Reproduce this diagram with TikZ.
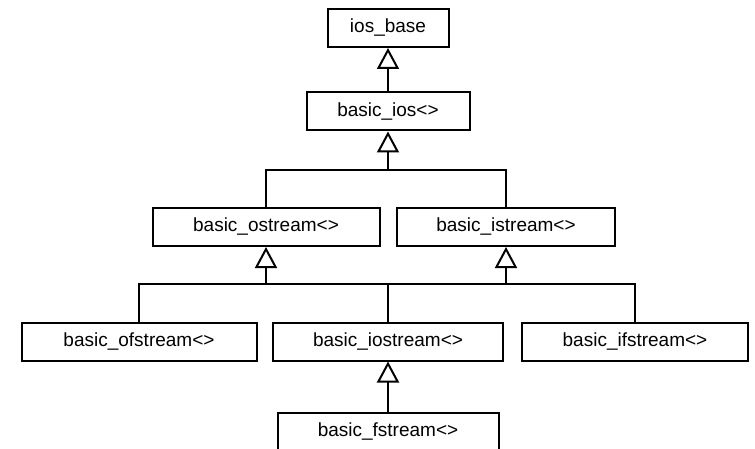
\documentclass[tikz,border=0pt]{standalone}
\usepackage{fontspec}
\setmainfont{Liberation Sans}
\usepackage{tikz}
\usetikzlibrary{arrows.meta, positioning}

\begin{document}
\begin{tikzpicture}[
x=1pt, y=-1pt,
box/.style={draw, line width=2pt, minimum height=38pt, inner sep=0pt, font=\fontsize{19}{21}\selectfont},
line/.style={line width=2pt},
inherit/.style={line width=2pt, -{Triangle[open, length=21pt, width=22pt, line width=2pt]}}
]
\useasboundingbox (0,0) rectangle (755,449);
\node[box, minimum width=121pt] (base) at (388,28) {ios\_base};
\node[box, minimum width=163pt] (ios) at (388,111.5) {basic\_ios<>};
\node[box, minimum width=227pt] (ostream) at (266,227) {basic\_ostream<>};
\node[box, minimum width=218pt] (istream) at (506,227) {basic\_istream<>};
\node[box, minimum width=235pt] (ofstream) at (139,341.5) {basic\_ofstream<>};
\node[box, minimum width=230pt] (iostream) at (388,341.5) {basic\_iostream<>};
\node[box, minimum width=226pt] (ifstream) at (635,341.5) {basic\_ifstream<>};
\node[box, minimum width=221pt] (fstream) at (388,432) {basic\_fstream<>};
\coordinate (j1) at (388,170);
\coordinate (j2) at (266,284);
\coordinate (j3) at (506,284);
\draw[inherit] (ios) -- (base);
\draw[line] (ostream.north) |- (j1) -| (istream.north);
\draw[inherit] (j1) -- (ios.south);
\draw[line] (ofstream.north) |- (j2) -| (iostream.north);
\draw[inherit] (j2) -- (ostream.south);
\draw[line] (iostream.north) |- (j3) -| (ifstream.north);
\draw[inherit] (j3) -- (istream.south);
\draw[inherit] (fstream) -- (iostream);
\end{tikzpicture}
\end{document}
